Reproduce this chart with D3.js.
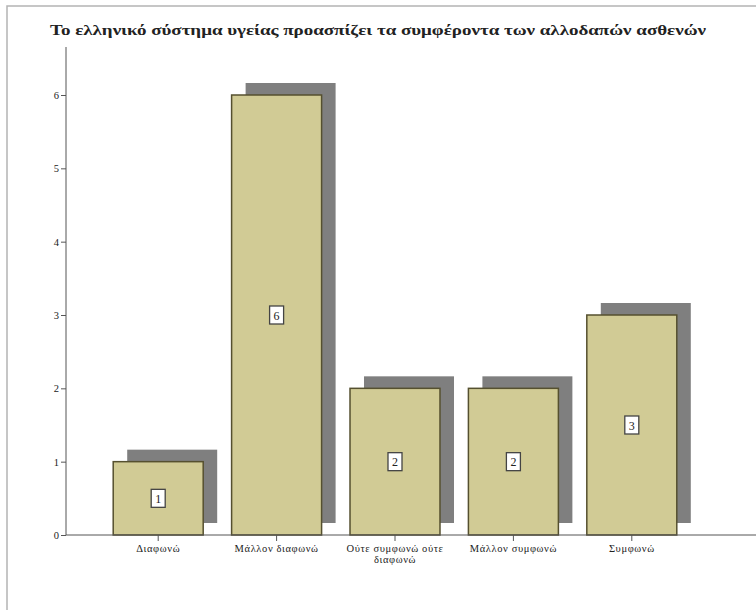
<!DOCTYPE html>
<html>
<head>
<meta charset="utf-8">
<script src="https://cdn.jsdelivr.net/npm/d3@7"></script>
<style>
    body { margin: 0; background: #fff; }
    svg { display: block; }
    text { font-family: "Liberation Serif", "DejaVu Serif", serif; fill: #222; }
</style>
</head>
<body>
<svg id="chart"></svg>
<script>
const title = "Το ελληνικό σύστημα υγείας προασπίζει τα συμφέροντα των αλλοδαπών ασθενών";
const categories = ["Διαφωνώ", "Μάλλον διαφωνώ", "Ούτε συμφωνώ ούτε διαφωνώ", "Μάλλον συμφωνώ", "Συμφωνώ"];
const categoryLines = [["Διαφωνώ"], ["Μάλλον διαφωνώ"], ["Ούτε συμφωνώ ούτε", "διαφωνώ"], ["Μάλλον συμφωνώ"], ["Συμφωνώ"]];
const counts = [1, 6, 2, 2, 3];
const yTicks = [0, 1, 2, 3, 4, 5, 6];

function drawChart() {
    const width = 756, height = 610;
    const svg = d3.select("#chart").attr("width", width).attr("height", height);

    // outer frame (runs off the right and bottom edges like the scan)
    svg.append("rect")
        .attr("x", 7).attr("y", 6)
        .attr("width", 800).attr("height", 700)
        .attr("fill", "none")
        .attr("stroke", "#b4b4b4")
        .attr("stroke-width", 1.5);

    svg.append("text")
        .attr("x", 50).attr("y", 35)
        .attr("font-size", 14)
        .attr("font-weight", "bold")
        .attr("textLength", 656)
        .attr("lengthAdjust", "spacingAndGlyphs")
        .text(title);

    const x = d3.scaleBand()
        .domain(categories)
        .range([99, 691])
        .paddingInner(0.24)
        .paddingOuter(0.12);

    const y = d3.scaleLinear()
        .domain([0, 6])
        .range([535, 95]);

    const shadowDx = 14, shadowDy = -12;

    const bars = svg.append("g");

    // drop shadows
    bars.selectAll("rect.shadow")
        .data(counts)
        .enter().append("rect")
        .attr("class", "shadow")
        .attr("x", (d, i) => x(categories[i]) + shadowDx)
        .attr("y", d => y(d) + shadowDy)
        .attr("width", x.bandwidth())
        .attr("height", d => y(0) - y(d))
        .attr("fill", "#7f7f7f");

    bars.selectAll("rect.bar")
        .data(counts)
        .enter().append("rect")
        .attr("class", "bar")
        .attr("x", (d, i) => x(categories[i]))
        .attr("y", d => y(d))
        .attr("width", x.bandwidth())
        .attr("height", d => y(0) - y(d))
        .attr("fill", "#d1cb95")
        .attr("stroke", "#55502f")
        .attr("stroke-width", 1.5);

    // y axis
    const yAxis = svg.append("g")
        .attr("transform", "translate(66,0)")
        .call(d3.axisLeft(y).tickValues(yTicks).tickFormat(d3.format("d")).tickSize(5).tickPadding(2));
    yAxis.select(".domain").remove();
    yAxis.selectAll("line").attr("stroke", "#555");
    yAxis.selectAll("text").attr("font-size", 10.5).attr("fill", "#333");
    svg.append("line")
        .attr("x1", 66).attr("x2", 66)
        .attr("y1", 47).attr("y2", y(0))
        .attr("stroke", "#555");

    // x axis
    const xAxis = svg.append("g")
        .attr("transform", `translate(0,${y(0)})`)
        .call(d3.axisBottom(x).tickSize(6).tickFormat(""));
    xAxis.select(".domain").remove();
    xAxis.selectAll("line").attr("stroke", "#555");
    svg.append("line")
        .attr("x1", 66).attr("x2", width)
        .attr("y1", y(0)).attr("y2", y(0))
        .attr("stroke", "#555");

    const labels = svg.append("g");
    categoryLines.forEach((lines, i) => {
        const t = labels.append("text")
            .attr("x", x(categories[i]) + x.bandwidth() / 2)
            .attr("y", 552)
            .attr("text-anchor", "middle")
            .attr("font-size", 10.5)
            .attr("letter-spacing", 0.6);
        lines.forEach((ln, j) => {
            t.append("tspan")
                .attr("x", x(categories[i]) + x.bandwidth() / 2)
                .attr("dy", j === 0 ? 0 : 11)
                .text(ln);
        });
    });

    // value boxes in the middle of each bar
    const vals = svg.append("g");
    counts.forEach((d, i) => {
        const cx = x(categories[i]) + x.bandwidth() / 2;
        const cy = y(d / 2);
        vals.append("rect")
            .attr("x", cx - 7).attr("y", cy - 9)
            .attr("width", 14).attr("height", 18)
            .attr("fill", "#fff")
            .attr("stroke", "#444")
            .attr("stroke-width", 1.3);
        vals.append("text")
            .attr("x", cx).attr("y", cy + 4.5)
            .attr("text-anchor", "middle")
            .attr("font-size", 12)
            .text(d);
    });
}

drawChart();
</script>
</body>
</html>
